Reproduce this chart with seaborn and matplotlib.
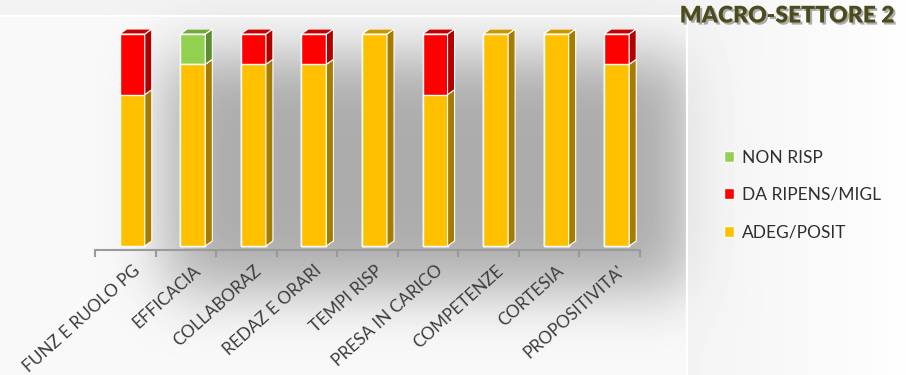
import numpy as np
import pandas as pd
import matplotlib
matplotlib.use("Agg")
import matplotlib.pyplot as plt
import seaborn as sns
from matplotlib.patches import Polygon, Patch
import matplotlib.patheffects as pe

# ---------------- data ----------------
categories = ["FUNZ E RUOLO PG", "EFFICACIA", "COLLABORAZ", "REDAZ E ORARI",
              "TEMPI RISP", "PRESA IN CARICO", "COMPETENZE", "CORTESIA",
              "PROPOSITIVITA'"]
adeg_posit = [71.4, 85.7, 85.7, 85.7, 100.0, 71.4, 100.0, 100.0, 85.7]
da_ripens = [28.6, 0.0, 14.3, 14.3, 0.0, 28.6, 0.0, 0.0, 14.3]
non_risp = [0.0, 14.3, 0.0, 0.0, 0.0, 0.0, 0.0, 0.0, 0.0]
series_names = ["ADEG/POSIT", "DA RIPENS/MIGL", "NON RISP"]
title = "MACRO-SETTORE 2"

# colours: front, side, top
C_Y = ("#FFC000", "#A67C00", "#C99700")
C_R = ("#FF0000", "#B00000", "#C40000")
C_G = ("#92D050", "#5E8C30", "#74A83C")

df = pd.DataFrame({"cat": categories, "adeg": adeg_posit,
                   "rip": da_ripens, "non": non_risp})
df["lvl2"] = df["adeg"] + df["rip"]
df["lvl3"] = df["lvl2"] + df["non"]

sns.set_theme(style="white")
plt.rcParams["font.family"] = ["Lato", "DejaVu Sans"]

W, H = 906, 375
fig = plt.figure(figsize=(W / 100, H / 100), dpi=100)

# ---------------- background ----------------
bg = fig.add_axes([0, 0, 1, 1], zorder=0)
yy, xx = np.mgrid[0:H, 0:W]
rect = ((xx >= 165) & (xx <= 690) & (yy >= 55) & (yy <= 290)).astype(float)


def blur(a, s):
    r = int(3 * s)
    k = np.exp(-0.5 * (np.arange(-r, r + 1) / s) ** 2)
    k /= k.sum()
    a = np.apply_along_axis(lambda m: np.convolve(m, k, mode="same"), 0, a)
    a = np.apply_along_axis(lambda m: np.convolve(m, k, mode="same"), 1, a)
    return a


shadow = blur(rect, 30)
base = np.full((H, W), 0.975)
base[yy < 16] = 0.95
right = xx > 687
base[right] = 0.955 + 0.04 * ((xx[right] - 687) / (W - 687))
shadow[right] *= 0.3
img = base - 0.30 * shadow
bg.imshow(img, cmap="gray", vmin=0, vmax=1, extent=[0, W, H, 0],
          aspect="auto", interpolation="bilinear")
bg.plot([0, 687], [16, 16], color="white", lw=1.6)
bg.plot([687, 687], [16, H], color="white", lw=1.6)
bg.set_xlim(0, W)
bg.set_ylim(H, 0)
bg.axis("off")

# ---------------- main axes ----------------
ax_left, ax_right = 95, 640
ax_bot, ax_top = 250, 29
ax = fig.add_axes([ax_left / W, (H - ax_bot) / H, (ax_right - ax_left) / W,
                   (ax_bot - ax_top) / H], zorder=1)
ax.set_facecolor("none")

bw = 25 / 60.5
sns.barplot(data=df, x="cat", y="lvl3", color=C_G[0], saturation=1,
            width=bw, edgecolor="white", linewidth=1.0, ax=ax)
sns.barplot(data=df, x="cat", y="lvl2", color=C_R[0], saturation=1,
            width=bw, edgecolor="white", linewidth=1.0, ax=ax)
sns.barplot(data=df, x="cat", y="adeg", color=C_Y[0], saturation=1,
            width=bw, edgecolor="white", linewidth=1.0, ax=ax)

slot_px = (ax_right - ax_left) / 9
s = 7 / slot_px
ax.set_xlim(-0.5 - s, 8.5 - s)
px_per_unit = 212 / 100
ax.set_ylim(-4 / px_per_unit, 100 + 5 / px_per_unit)

dx = 7 / slot_px
dy = 5 / px_per_unit
yellow_patches = ax.patches[-len(categories):]
for i, p in enumerate(yellow_patches):
    x0 = p.get_x()
    x1 = x0 + p.get_width()
    segs = [(0, df["adeg"][i], C_Y), (df["adeg"][i], df["lvl2"][i], C_R),
            (df["lvl2"][i], df["lvl3"][i], C_G)]
    segs = [sg for sg in segs if sg[1] - sg[0] > 0]
    for y0, y1, col in segs:
        ax.add_patch(Polygon([(x1, y0), (x1 + dx, y0 + dy), (x1 + dx, y1 + dy),
                              (x1, y1)], closed=True, facecolor=col[1],
                             edgecolor="white", linewidth=0.8, zorder=3))
    y0, y1, col = segs[-1]
    ax.add_patch(Polygon([(x0, y1), (x0 + dx, y1 + dy), (x1 + dx, y1 + dy),
                          (x1, y1)], closed=True, facecolor=col[2],
                         edgecolor="white", linewidth=0.8, zorder=3))

ax.set_xticks(range(len(categories)))
ax.set_xticklabels(categories, rotation=42, ha="right", va="top",
                   rotation_mode="anchor", fontsize=12.3, color="#3c3c3c")
ax.set_xticks(np.arange(len(categories) + 1) - 0.5 - s, minor=True)
ax.tick_params(axis="x", which="major", length=0, pad=9)
ax.tick_params(axis="x", which="minor", length=5, width=1.5, color="#9a9a9a",
               direction="out", bottom=True)
ax.set_yticks([])
ax.set_xlabel("")
ax.set_ylabel("")
sns.despine(ax=ax, left=True)
ax.spines["bottom"].set_color("#9a9a9a")
ax.spines["bottom"].set_linewidth(1.5)

# ---------------- legend ----------------
handles = [Patch(facecolor=C_G[0]), Patch(facecolor=C_R[0]), Patch(facecolor=C_Y[0])]
labels = [series_names[2], series_names[1], series_names[0]]
fig.legend(handles, labels, loc="center left",
           bbox_to_anchor=(708 / W, 1 - 195 / H), frameon=False,
           fontsize=12.5, handlelength=0.6, handleheight=0.6,
           handletextpad=0.45, labelspacing=1.22, labelcolor="#2e2e2e")

# ---------------- title ----------------
fig.text(787 / W, 1 - 16 / H, title, ha="center", va="center", fontsize=16.5,
         fontweight="heavy", color="#4B4B1C",
         path_effects=[pe.withSimplePatchShadow(offset=(1.5, -1.5),
                                                shadow_rgbFace="#777777",
                                                alpha=0.6)])

fig.savefig("out.png", dpi=100)
